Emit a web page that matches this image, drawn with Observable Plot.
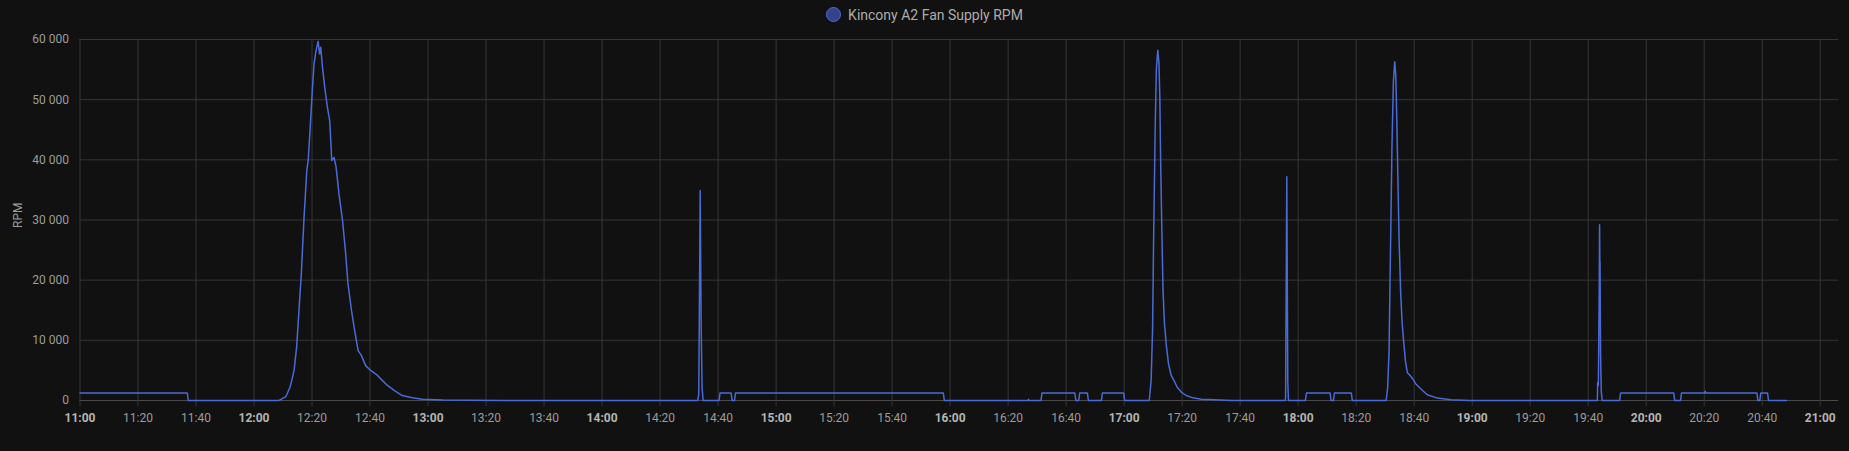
<!DOCTYPE html>
<html>
<head>
<meta charset="utf-8">
<script src="https://cdn.jsdelivr.net/npm/d3@7"></script>
<script src="https://cdn.jsdelivr.net/npm/@observablehq/plot@0.6"></script>
<style>
  html, body { margin: 0; padding: 0; background: #111111; }
  body { width: 1849px; height: 451px; overflow: hidden; font-family: Roboto, "Noto Sans", sans-serif; }
  #legend { height: 29px; display: flex; align-items: center; justify-content: center; gap: 7px;
            color: #acacac; font-size: 14px; font-family: Roboto, sans-serif; }
  #legend .dot { width: 13px; height: 13px; border-radius: 50%; background: #33448a; border: 1.5px solid #4a6bd6; }
  #chart svg { display: block; }
</style>
</head>
<body>
<div id="legend"><span class="dot"></span><span id="legendText"></span></div>
<div id="chart"></div>
<script>
// ---- data ----
const seriesName = "Kincony A2 Fan Supply RPM";
const yLabel = "RPM";

const times = [
  "11:00:00","11:37:00","11:37:20","12:08:30","12:09:10","12:10:00","12:10:54","12:11:30","12:12:24","12:13:00",
  "12:13:48","12:14:42","12:15:30","12:16:18","12:17:12","12:18:12","12:18:42","12:19:30","12:20:06","12:20:42",
  "12:21:24","12:22:06","12:22:36","12:23:00","12:23:36","12:24:24","12:25:18","12:26:06","12:26:48","12:27:36",
  "12:28:18","12:29:18","12:30:30","12:31:36","12:32:24","12:33:36","12:34:42","12:35:54","12:37:00","12:38:30",
  "12:40:12","12:42:30","12:44:18","12:46:00","12:48:18","12:51:06","12:54:36","12:58:00","13:05:00","13:15:00",
  "13:25:00","14:33:00","14:33:20","14:33:50","14:34:10","14:34:30","14:34:50","14:40:20","14:40:40","14:44:30",
  "14:44:50","14:45:40","14:46:00","15:57:40","15:58:00","16:26:50","16:27:00","16:27:10","16:31:20","16:31:40",
  "16:43:00","16:43:20","16:44:20","16:44:40","16:47:20","16:47:40","16:52:10","16:52:30","16:59:50","17:00:10",
  "17:08:40","17:09:18","17:09:48","17:10:12","17:10:42","17:11:06","17:11:36","17:12:00","17:12:18","17:12:36",
  "17:13:00","17:13:24","17:13:54","17:14:36","17:15:18","17:16:12","17:17:06","17:18:18","17:19:42","17:21:24",
  "17:23:42","17:26:36","17:31:06","17:37:00","17:55:30","17:55:40","17:56:05","17:56:25","17:56:40","18:02:30",
  "18:02:50","18:11:00","18:11:20","18:12:10","18:12:30","18:18:20","18:18:40","18:30:20","18:30:50","18:31:20",
  "18:31:50","18:32:20","18:32:50","18:33:18","18:33:40","18:34:00","18:34:25","18:34:50","18:35:20","18:35:50",
  "18:36:20","18:37:00","18:37:40","18:38:30","18:39:30","18:40:30","18:42:20","18:44:30","18:48:00","18:52:40",
  "18:59:00","19:43:10","19:43:15","19:43:30","19:43:50","19:43:55","19:44:02","19:44:05","19:44:15","19:44:30",
  "19:44:50","19:50:50","19:51:10","20:09:30","20:09:50","20:11:50","20:12:10","20:20:10","20:20:20","20:20:30",
  "20:38:10","20:38:30","20:39:10","20:39:30","20:41:50","20:42:10","20:48:20"
];
const rpm = [
  1250,1250,0,0,150,400,600,1200,2200,3300,
  5000,8900,15000,21000,30000,38200,40000,46500,51500,56000,
  58200,59700,57600,58700,55400,52000,48700,46500,39900,40400,
  38800,34300,30000,24400,19400,15000,11600,8300,7500,5800,
  5000,4200,3300,2500,1700,830,440,220,90,30,
  0,0,1000,34900,12000,2000,0,0,1250,1250,
  0,0,1250,1250,0,0,200,0,0,1250,
  1250,0,0,1250,1250,0,0,1250,1250,0,
  0,3300,11700,28300,45000,55000,58200,56100,50500,39400,
  28300,18300,12800,8900,6100,4200,3400,2200,1400,830,
  440,220,110,0,0,400,37200,3000,0,0,
  1250,1250,0,0,1250,1250,0,0,2000,8000,
  25000,42000,53000,56300,54000,47000,36000,26000,18000,13000,
  10000,6500,4600,4200,3600,2800,1900,950,400,110,
  0,0,3000,2500,20000,29200,22000,23000,8000,1500,
  0,0,1250,1250,0,0,1250,1250,1530,1250,
  1250,0,0,1250,1250,0,0
];
const yTicks = [0, 10000, 20000, 30000, 40000, 50000, 60000];
const xStart = "11:00:00";
const xEnd = "21:06:24";
const xTickEvery = 20; // minutes

// ---- build ----
document.getElementById("legendText").textContent = seriesName;
const parse = s => { const [h, m, sec] = s.split(":").map(Number); return new Date(Date.UTC(2024, 0, 1, h, m, sec || 0)); };
const data = times.map((t, i) => ({t: parse(t), v: rpm[i]}));
const allTicks = d3.utcMinute.every(xTickEvery).range(parse(xStart), parse(xEnd));
const hourTicks = allTicks.filter(d => d.getUTCMinutes() === 0);
const minorTicks = allTicks.filter(d => d.getUTCMinutes() !== 0);
const fmtTime = d3.utcFormat("%H:%M");
const fmtNum = d3.formatLocale({decimal: ".", thousands: " ", grouping: [3], currency: ["", ""]}).format(",");
const gridColor = "#363636";

const chart = Plot.plot({
  width: 1849,
  height: 422,
  marginLeft: 79.5,
  marginRight: 10.7,
  marginTop: 10,
  marginBottom: 51,
  style: {background: "#111111", fontFamily: "Roboto, sans-serif", fontSize: "12px", overflow: "visible"},
  x: {type: "utc", domain: [parse(xStart), parse(xEnd)]},
  y: {domain: [0, 60000]},
  marks: [
    Plot.gridY(yTicks.filter(d => d > 0), {stroke: gridColor, strokeOpacity: 1}),
    Plot.gridX(allTicks, {stroke: gridColor, strokeOpacity: 1}),
    Plot.ruleY([0], {stroke: "#4a4a4a"}),
    Plot.axisY(yTicks, {tickSize: 0, tickPadding: 11, tickFormat: fmtNum, fill: "#9c9c9c", label: null, fontSize: 12}),
    Plot.axisX(minorTicks, {tickSize: 6, tickPadding: 7, tickFormat: fmtTime, stroke: gridColor, fill: "#9c9c9c", label: null, fontSize: 12}),
    Plot.axisX(hourTicks, {tickSize: 6, tickPadding: 7, tickFormat: fmtTime, stroke: gridColor, fill: "#b4b4b4", fontWeight: "bold", label: null, fontSize: 12}),
    Plot.text([yLabel], {frameAnchor: "left", dx: -62, dy: 8, rotate: -90, fill: "#9c9c9c", fontSize: 12}),
    Plot.lineY(data, {x: "t", y: "v", stroke: "#4a6bd6", strokeWidth: 1.5})
  ]
});
document.getElementById("chart").appendChild(chart);
</script>
</body>
</html>
